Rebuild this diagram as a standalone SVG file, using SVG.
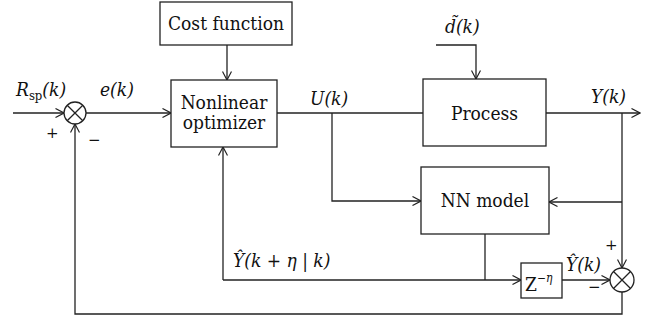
<svg xmlns="http://www.w3.org/2000/svg" width="647" height="321" viewBox="0 0 647 321">
  <defs>
    <marker id="arrow" viewBox="0 0 10 10" refX="9.5" refY="5" markerWidth="10" markerHeight="10" markerUnits="userSpaceOnUse" orient="auto">
      <path d="M1 0.5 L9.5 5 L1 9.5" fill="none" stroke="#222" stroke-width="1.2"/>
    </marker>
    <style>
      .box { fill: #fff; stroke: #222; stroke-width: 1.3; }
      .wire { fill: none; stroke: #222; stroke-width: 1.3; }
      .sum { fill: #fff; stroke: #222; stroke-width: 1.3; }
      .lbl { font-family: "DejaVu Serif Condensed", "DejaVu Serif", serif; font-size: 19px; fill: #111; }
      .math { font-family: "DejaVu Serif Condensed", "DejaVu Serif", serif; font-size: 19px; font-style: italic; fill: #111; }
      .sign { font-family: "DejaVu Serif", serif; font-size: 15px; fill: #111; }
    </style>
  </defs>

  <!-- signal lines -->
  <g id="connectors">
    <path class="wire" d="M13 113 H64" marker-end="url(#arrow)"/>
    <path class="wire" d="M86 113 H171" marker-end="url(#arrow)"/>
    <path class="wire" d="M227 45 V80" marker-end="url(#arrow)"/>
    <path class="wire" d="M277 113 H423"/>
    <path class="wire" d="M332 113 V201 H421" marker-end="url(#arrow)"/>
    <path class="wire" d="M436 45 H476 V79" marker-end="url(#arrow)"/>
    <path class="wire" d="M546 113 H640" marker-end="url(#arrow)"/>
    <path class="wire" d="M622 113 V268" marker-end="url(#arrow)"/>
    <path class="wire" d="M622 202 H549" marker-end="url(#arrow)"/>
    <path class="wire" d="M485 234 V280"/>
    <path class="wire" d="M223 280 H521" marker-end="url(#arrow)"/>
    <path class="wire" d="M223 280 V147" marker-end="url(#arrow)"/>
    <path class="wire" d="M562 280 H610" marker-end="url(#arrow)"/>
    <path class="wire" d="M622 292 V314 H75 V124" marker-end="url(#arrow)"/>
  </g>

  <!-- summing junction at the reference input -->
  <g id="sum-error">
    <circle class="sum" cx="75" cy="113" r="11"/>
    <path class="wire" d="M67.2 105.2 L82.8 120.8 M82.8 105.2 L67.2 120.8"/>
    <text class="sign" x="46" y="138">+</text>
    <text class="sign" x="88" y="145">−</text>
  </g>

  <g id="cost-function">
    <rect class="box" x="160" y="2" width="132" height="43"/>
    <text class="lbl" x="226" y="30" text-anchor="middle">Cost function</text>
  </g>

  <g id="nonlinear-optimizer">
    <rect class="box" x="171" y="80" width="106" height="67"/>
    <text class="lbl" x="224" y="109" text-anchor="middle">Nonlinear</text>
    <text class="lbl" x="224" y="129" text-anchor="middle">optimizer</text>
  </g>

  <g id="process">
    <rect class="box" x="423" y="79" width="123" height="67"/>
    <text class="lbl" x="484.5" y="120" text-anchor="middle">Process</text>
  </g>

  <g id="nn-model">
    <rect class="box" x="421" y="167" width="128" height="67"/>
    <text class="lbl" x="485" y="207" text-anchor="middle">NN model</text>
  </g>

  <g id="delay">
    <rect class="box" x="521" y="263" width="41" height="35"/>
    <text class="lbl" x="525" y="291">Z<tspan font-size="12" dy="-9">−</tspan><tspan font-size="12" font-style="italic">η</tspan></text>
  </g>

  <!-- summing junction comparing plant output and model prediction -->
  <g id="sum-model">
    <circle class="sum" cx="622" cy="280" r="12"/>
    <path class="wire" d="M613.5 271.5 L630.5 288.5 M630.5 271.5 L613.5 288.5"/>
    <text class="sign" x="605" y="250">+</text>
    <text class="sign" x="588" y="292">−</text>
  </g>

  <!-- signal names -->
  <g id="labels">
    <text class="math" x="16" y="96">R<tspan font-style="normal" font-size="13" dy="4">sp</tspan><tspan dy="-4">(k)</tspan></text>
    <text class="math" x="100" y="96">e(k)</text>
    <text class="math" x="310" y="105">U(k)</text>
    <text class="math" x="445" y="33">d̃(k)</text>
    <text class="math" x="591" y="103">Y(k)</text>
    <text class="math" x="233" y="267">Ŷ(k + η | k)</text>
    <text class="math" x="566" y="271">Ŷ(k)</text>
  </g>
</svg>
